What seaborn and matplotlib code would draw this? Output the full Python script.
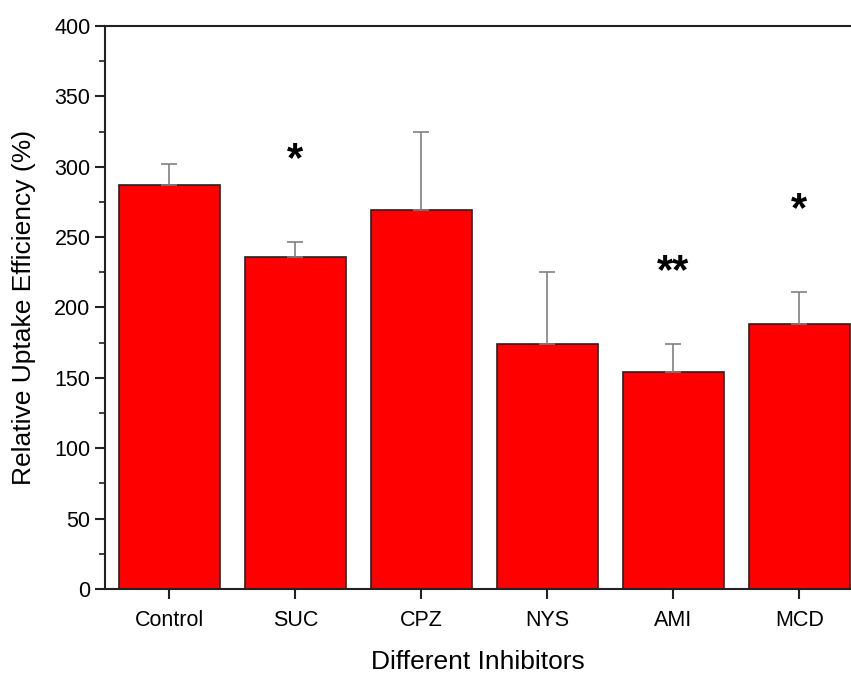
import matplotlib
matplotlib.use("Agg")
import matplotlib.pyplot as plt
import seaborn as sns
import pandas as pd
from matplotlib.ticker import MultipleLocator

categories = ["Control", "SUC", "CPZ", "NYS", "AMI", "MCD"]
means = [287, 236, 269.5, 174, 154, 188.5]
errors = [15, 10.5, 55, 51, 20, 22.5]
marks = ["", "*", "", "", "**", "*"]
mark_y = [None, 305, None, None, 225, 269]

sns.set_style("white")
plt.rcParams['font.family'] = ['Liberation Sans', 'DejaVu Sans']
plt.rcParams['text.color'] = 'black'
plt.rcParams['axes.labelcolor'] = 'black'
plt.rcParams['xtick.color'] = 'black'
plt.rcParams['ytick.color'] = 'black'

df = pd.DataFrame({"cat": categories, "val": means})

fig = plt.figure(figsize=(8.51, 6.73), dpi=100)
ax = fig.add_axes([0.1234, 0.1248, 0.8766, 0.8366])

sns.barplot(data=df, x="cat", y="val", color="#ff0000", saturation=1,
            edgecolor="#222222", linewidth=1.2, width=0.8, errorbar=None, ax=ax)

ax.errorbar(range(len(categories)), means,
            yerr=[[0] * len(errors), errors], fmt="none",
            ecolor="#808080", elinewidth=1.2, capsize=6, capthick=1.2, zorder=1)

for i, (m, y) in enumerate(zip(marks, mark_y)):
    if m:
        ax.text(i, y, m, ha="center", va="center", fontsize=30, fontweight="bold",
                color="black")

ax.set_ylim(0, 400)
ax.set_xlim(-0.51, 5.41)
ax.yaxis.set_major_locator(MultipleLocator(50))
ax.yaxis.set_minor_locator(MultipleLocator(25))

for s in ["left", "bottom", "top"]:
    ax.spines[s].set_visible(True)
    ax.spines[s].set_color("#222222")
    ax.spines[s].set_linewidth(1.5)
ax.spines["right"].set_visible(False)

ax.tick_params(axis="both", which="major", direction="out", length=7, width=1.5,
               labelsize=15.5, color="#222222", labelcolor="black", left=True, bottom=True)
ax.tick_params(axis="y", which="minor", direction="out", length=4, width=1.2,
               left=True, color="#222222")
ax.tick_params(axis="x", pad=8)

ax.set_xlabel("Different Inhibitors", fontsize=19, labelpad=14)
ax.set_ylabel("Relative Uptake Efficiency (%)", fontsize=19, labelpad=13)

fig.savefig("out.png", dpi=100)
